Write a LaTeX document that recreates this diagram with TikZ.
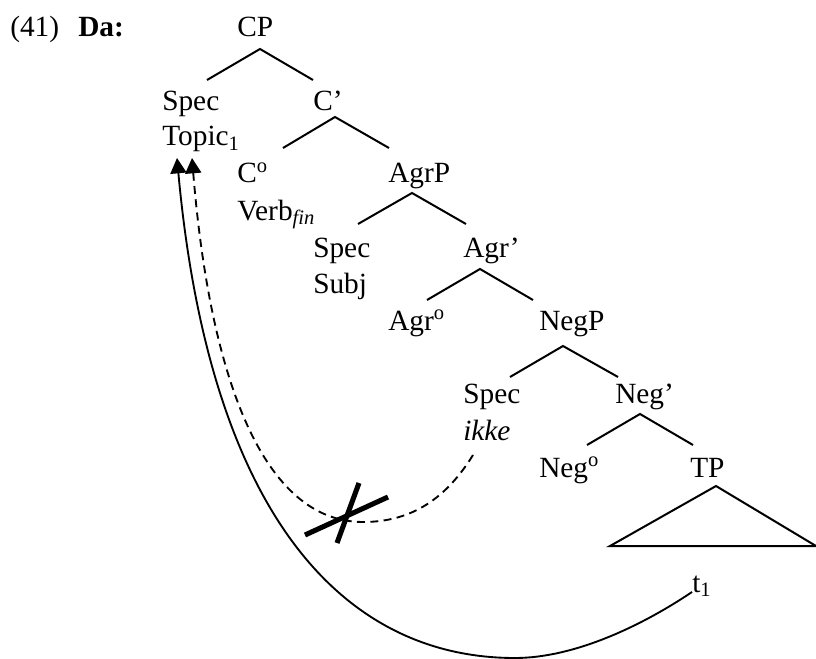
\documentclass[tikz,border=0pt]{standalone}
\usepackage{fontspec}
\setmainfont{Liberation Serif}
\usetikzlibrary{arrows.meta}

\tikzset{
  lbl/.style={anchor=base west, inner sep=0pt, font=\fontsize{22}{27}\selectfont},
  branch/.style={line width=1.5pt},
  move/.style={line width=1.4pt, -{Triangle[length=11.5pt,width=12pt]}},
  blocked/.style={move, dash pattern=on 6pt off 4pt},
  cross/.style={line width=3.8pt},
}

\begin{document}
\begin{tikzpicture}[x=0.75pt,y=-0.75pt]
    \useasboundingbox (0,0) rectangle (816,659);
    % example number
    \node[lbl] (num) at (10,37) {(41)};
    \node[lbl, font=\fontsize{22}{27}\selectfont\bfseries] (da) at (78,37) {Da:};
    % tree labels
    \node[lbl] (cp) at (237,37) {CP};
    \node[lbl] (specA) at (162,111) {Spec};
    \node[lbl] (topic) at (162,146) {Topic\textsubscript{1}};
    \node[lbl] (cbar) at (313,111) {C’};
    \node[lbl] (chead) at (237,183) {C\textsuperscript{o}};
    \node[lbl] (verb) at (237,220) {Verb\textsubscript{\itshape fin}};
    \node[lbl] (agrp) at (388,183) {AgrP};
    \node[lbl] (specB) at (313,257) {Spec};
    \node[lbl] (subj) at (313,293) {Subj};
    \node[lbl] (agrbar) at (463,257) {Agr’};
    \node[lbl] (agrhead) at (388,330) {Agr\textsuperscript{o}};
    \node[lbl] (negp) at (539,330) {NegP};
    \node[lbl] (specC) at (463,403) {Spec};
    \node[lbl] (ikke) at (463,440) {\itshape ikke};
    \node[lbl] (negbar) at (615,403) {Neg’};
    \node[lbl] (neghead) at (539,477) {Neg\textsuperscript{o}};
    \node[lbl] (tp) at (690,477) {TP};
    \node[lbl] (t1) at (692,592) {t\textsubscript{1}};
    % branches
    \foreach \n/\ax/\ay/\lx/\rx/\by in {cp/260/49/207/313/80, cbar/335/117/283/389/148,
        agrp/412/193/358/466/224, agrbar/480/269/427/533/300,
        negp/563/346/510/618/377, negbar/640/414/587/693/445} {
      \coordinate (\n-top) at (\ax,\ay);
      \coordinate (\n-l) at (\lx,\by);
      \coordinate (\n-r) at (\rx,\by);
      \draw[branch] (\n-l) -- (\n-top) -- (\n-r);
    }
    % TP triangle
    \coordinate (tp-top) at (716,486);
    \draw[branch] (tp-top) -- (610,546) -- (816,546) -- cycle;
    % movement
    \coordinate (goal1) at ([shift={(15,12)}]topic.base west);
    \coordinate (goal2) at ([shift={(30,12)}]topic.base west);
    \draw[move] (t1.base west) .. controls (643,625) and (575,658) .. (515,658)
        .. controls (345,658) and (210,518) .. (goal1);
    \draw[blocked] ([shift={(10,15)}]ikke.base west) .. controls (447,497) and (413,522) .. (363,522)
        .. controls (263,522) and (210,378) .. (goal2);
    % blocked
    \draw[cross] (305,535) -- (388,497);
    \draw[cross] (359,483) -- (337,543);
\end{tikzpicture}
\end{document}
